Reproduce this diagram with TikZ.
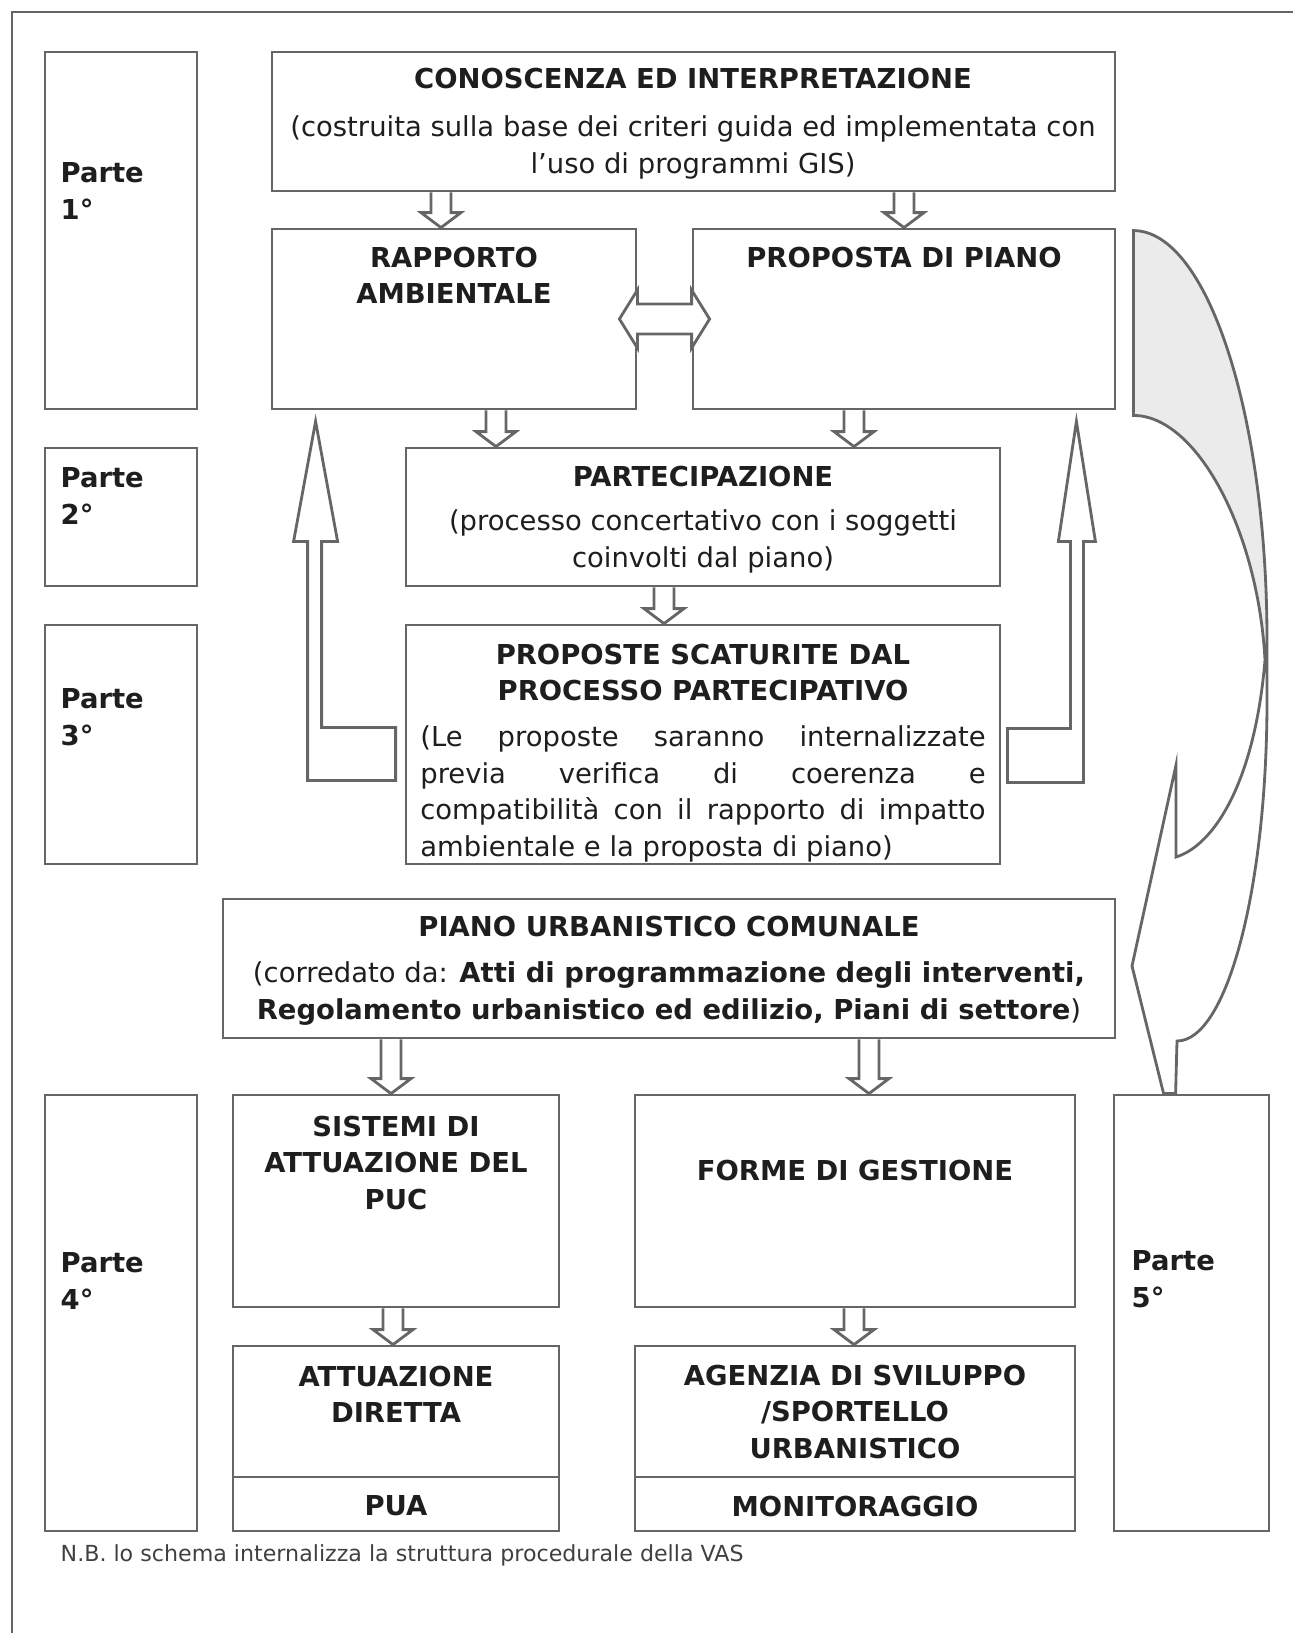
\documentclass[tikz,border=0pt]{standalone}
\usepackage{fontspec}
\setmainfont{DejaVu Sans}
\usetikzlibrary{calc,fit}
\setlength{\parindent}{0pt}
\definecolor{lin}{HTML}{666666}
\definecolor{ink}{HTML}{1E1E1E}
\definecolor{back}{HTML}{EBEBEB}
\newcommand\blockdown[3]{%
  \coordinate (ax) at (#3,0);
  \draw[blk] ($(#1.south -| ax)+(-10,0)$) -- ($(#2.north -| ax)+(-10,-15)$) -- ($(#2.north -| ax)+(-20,-15)$) -- (#2.north -| ax) -- ($(#2.north -| ax)+(20,-15)$) -- ($(#2.north -| ax)+(10,-15)$) -- ($(#1.south -| ax)+(10,0)$);}

\begin{document}
\begin{tikzpicture}[x=0.01cm, y=-0.01cm,
	box/.style={draw=lin, line width=0.8pt, inner sep=0pt},
	ttl/.style={font=\fontsize{7.8}{10.4}\selectfont\bfseries, text=ink, align=center, anchor=north, inner sep=0pt},
	txt/.style={font=\fontsize{7.8}{10.4}\selectfont, text=ink, align=center, anchor=north, inner sep=0pt},
	parte/.style={font=\fontsize{7.8}{10.4}\selectfont\bfseries, text=ink, align=left, anchor=north west, inner sep=0pt},
	blk/.style={draw=lin, line width=0.8pt}]
	\useasboundingbox (0,0) rectangle (1293,1633);
	\draw[lin, line width=0.8pt] (12,1633) -- (12,12) -- (1293,12);

	\node[box, fit={(45,52) (197,409)}] (p1) {};
	\node[box, fit={(272,52) (1115,191)}] (con) {};
	\node[box, fit={(272,229) (636,409)}] (rap) {};
	\node[box, fit={(693,229) (1115,409)}] (prop) {};
	\node[box, fit={(45,448) (197,586)}] (p2) {};
	\node[box, fit={(406,448) (1000,586)}] (part) {};
	\node[box, fit={(45,625) (197,864)}] (p3) {};
	\node[box, fit={(406,625) (1000,864)}] (pps) {};
	\node[box, fit={(223,899) (1115,1038)}] (puc) {};
	\node[box, fit={(45,1095) (197,1531)}] (p4) {};
	\node[box, fit={(233,1095) (559,1307)}] (sis) {};
	\node[box, fit={(233,1346) (559,1477)}] (att) {};
	\node[box, fit={(233,1477) (559,1531)}] (pua) {};
	\node[box, fit={(635,1095) (1075,1307)}] (for) {};
	\node[box, fit={(635,1346) (1075,1477)}] (age) {};
	\node[box, fit={(635,1477) (1075,1531)}] (mon) {};
	\node[box, fit={(1114,1095) (1269,1531)}] (p5) {};

	\node[parte] (t-p1) at (60,162) {Parte\\1°};
	\node[parte] (t-p2) at (60,467) {Parte\\2°};
	\node[parte] (t-p3) at (60,688) {Parte\\3°};
	\node[parte] (t-p4) at (60,1252) {Parte\\4°};
	\node[parte] (t-p5) at (1131,1250) {Parte\\5°};

	\node[ttl] (t-con) at (693,67) {CONOSCENZA ED INTERPRETAZIONE};
	\node[txt] (s-con) at (693,115) {(costruita sulla base dei criteri guida ed implementata con\\l’uso di programmi GIS)};
	\node[ttl] (t-rap) at (454,246) {RAPPORTO\\AMBIENTALE};
	\node[ttl] (t-prop) at (904,246) {PROPOSTA DI PIANO};
	\node[ttl] (t-part) at (703,465) {PARTECIPAZIONE};
	\node[txt] (s-part) at (703,509) {(processo concertativo con i soggetti\\coinvolti dal piano)};
	\node[ttl] (t-pps) at (703,643) {PROPOSTE SCATURITE DAL\\PROCESSO PARTECIPATIVO};
	\node[txt, align=justify, text width=5.65cm] (s-pps) at (703,725) {(Le proposte saranno internalizzate\linebreak previa verifica di coerenza e\linebreak compatibilità con il rapporto di impatto\linebreak ambientale e la proposta di piano)};
	\node[ttl] (t-puc) at (669,915) {PIANO URBANISTICO COMUNALE};
	\node[txt] (s-puc) at (669,961) {(corredato da: \textbf{Atti di programmazione degli interventi,}\\\textbf{Regolamento urbanistico ed edilizio, Piani di settore})};
	\node[ttl] (t-sis) at (396,1115) {SISTEMI DI\\ATTUAZIONE DEL\\PUC};
	\node[ttl] (t-for) at (855,1159) {FORME DI GESTIONE};
	\node[ttl] (t-att) at (396,1365) {ATTUAZIONE\\DIRETTA};
	\node[ttl] (t-age) at (855,1364) {AGENZIA DI SVILUPPO\\/SPORTELLO\\URBANISTICO};
	\node[ttl] (t-pua) at (396,1495) {PUA};
	\node[ttl] (t-mon) at (855,1495) {MONITORAGGIO};
	\node[font=\fontsize{6.3}{8}\selectfont, text=black!75, anchor=west, inner sep=0pt] (nb) at (60,1555) {N.B. lo schema internalizza la struttura procedurale della VAS};

	\blockdown{con}{rap}{441}
	\blockdown{con}{prop}{904}
	\blockdown{rap}{part}{496}
	\blockdown{prop}{part}{854}
	\blockdown{part}{pps}{664}
	\blockdown{puc}{sis}{391}
	\blockdown{puc}{for}{869}
	\blockdown{sis}{att}{393}
	\blockdown{for}{age}{854}

	\draw[blk, fill=white] ($(rap.east)+(-18,0)$) -- ($(rap.east)+(0,-29)$) -- ($(rap.east)+(0,-15)$) -- ($(prop.west)+(0,-15)$) -- ($(prop.west)+(0,-29)$) -- ($(prop.west)+(18,0)$) -- ($(prop.west)+(0,29)$) -- ($(prop.west)+(0,15)$) -- ($(rap.east)+(0,15)$) -- ($(rap.east)+(0,29)$) -- cycle;

	\draw[blk] ($(rap.south west)+(45,11)$) -- ++(22,120) coordinate (lr) -- ++(-16,0) |- ($(pps.west)+(-9,-17)$) -- ++(0,53) -- ++(-88,0) |- ($(lr)+(-44,0)$) -- cycle;
	\draw[blk] ($(prop.south east)+(-40,11)$) -- ++(19,120) coordinate (rr) -- ++(-12,0) |- ($(pps.east)+(6,38)$) -- ++(0,-54) -- ++(63,0) |- ($(rr)+(-37,0)$) -- cycle;

	\coordinate (c1) at ($(prop.north east)+(17,3)$);
	\coordinate (c2) at ($(prop.south east)+(17,5)$);
	\coordinate (c3) at ($(p5.north west)+(63,0)$);
	\coordinate (c4) at ($(p5.north west)+(51,0)$);
	\fill[back] (c1) .. controls +(74,0) and +(0,-225) .. (1267,640) -- (1265,660) .. controls +(-7,-130) and +(63,0) .. (c2) -- cycle;
	\draw[blk] (c1) .. controls +(74,0) and +(0,-225) .. (1267,640) -- (1267,700) .. controls +(0,188) and +(50,0) .. (1177,1041) -- (c3) -- (c4) -- (1132,966) -- (1176,765) -- (1176,857) .. controls +(39,-12) and +(-10,120) .. (1265,660) .. controls +(-7,-130) and +(63,0) .. (c2) -- cycle;
\end{tikzpicture}
\end{document}
